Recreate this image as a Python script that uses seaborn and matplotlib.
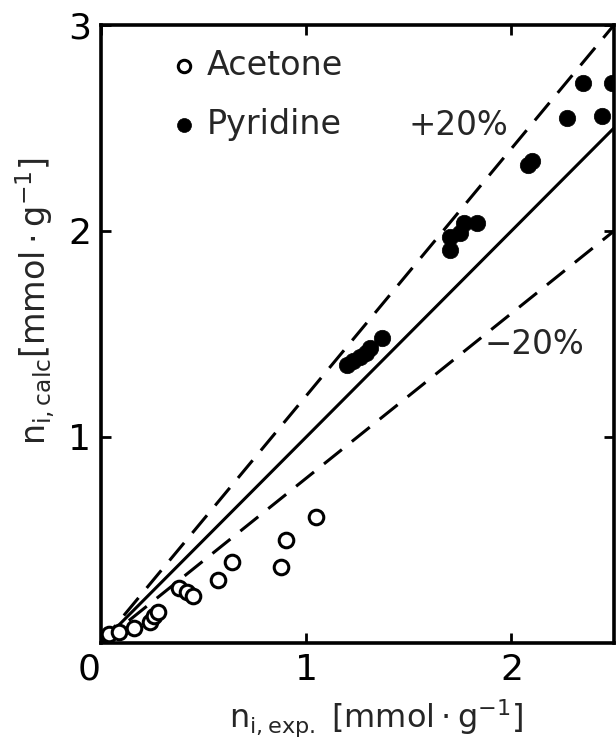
import matplotlib
matplotlib.use("Agg")
import matplotlib.pyplot as plt
import seaborn as sns
import pandas as pd

# ---- data ----
acetone_exp = [0.04, 0.09, 0.16, 0.24, 0.26, 0.28, 0.38, 0.42, 0.45, 0.57, 0.64, 0.875, 0.90, 1.05]
acetone_calc = [0.045, 0.055, 0.075, 0.10, 0.13, 0.15, 0.265, 0.25, 0.23, 0.305, 0.395, 0.37, 0.50, 0.61]

pyridine_exp = [1.20, 1.23, 1.26, 1.29, 1.31, 1.37, 1.70, 1.70, 1.75, 1.77, 1.83,
                2.08, 2.10, 2.27, 2.35, 2.44, 2.49]
pyridine_calc = [1.35, 1.37, 1.39, 1.41, 1.43, 1.48, 1.91, 1.97, 1.99, 2.04, 2.04,
                 2.32, 2.34, 2.55, 2.72, 2.56, 2.72]

line_x = [0.0, 2.5]
line_factors = [1.0, 1.2, 0.8]
line_styles = ["solid", "dashed", "dashed"]

x_ticks = [0, 1, 2]
y_ticks = [1, 2, 3]

sns.set_style("ticks")
plt.rcParams["font.family"] = ["DejaVu Sans"]
plt.rcParams["mathtext.default"] = "regular"

fig = plt.figure(figsize=(6.16, 7.39), dpi=100)
ax = fig.add_axes([101/616, 1 - 643/739, 513/616, 618/739])

# reference lines (1:1 and +/-20 %)
for f, ls in zip(line_factors, line_styles):
    ly = [f * v for v in line_x]
    sns.lineplot(x=line_x, y=ly, ax=ax, color="black", lw=2.2)
    line = ax.lines[-1]
    if ls == "dashed":
        line.set_dashes((7.5, 4.2))

df_a = pd.DataFrame({"x": acetone_exp, "y": acetone_calc})
df_p = pd.DataFrame({"x": pyridine_exp, "y": pyridine_calc})

sns.scatterplot(data=df_a, x="x", y="y", ax=ax, marker="o", s=110,
                facecolor="white", edgecolor="black", linewidth=2.2,
                label="Acetone", zorder=5)
sns.scatterplot(data=df_p, x="x", y="y", ax=ax, marker="o", s=140,
                color="black", edgecolor="black", linewidth=0.5,
                label="Pyridine", zorder=5)

ax.set_xlim(0, 2.5)
ax.set_ylim(0, 3)

ax.set_xticks(x_ticks)
ax.set_yticks(y_ticks)
ax.set_xticklabels([str(t) for t in x_ticks])
ax.set_yticklabels([str(t) for t in y_ticks])
ax.get_xticklabels()[0].set_horizontalalignment("right")

ax.tick_params(direction="in", length=7, width=2, top=True, right=True,
               labelsize=26, pad=7, colors="black")
for sp in ax.spines.values():
    sp.set_linewidth(2.6)
    sp.set_color("black")

ax.set_xlabel(r"$n_{i,exp.}\ [mmol\cdot g^{-1}]$", fontsize=23)
ax.set_ylabel(r"$n_{i,calc}[mmol\cdot g^{-1}]$", fontsize=24)
ax.xaxis.label.set_verticalalignment("center")
ax.xaxis.set_label_coords(0.536, -0.122)
ax.yaxis.label.set_verticalalignment("center")
ax.yaxis.set_label_coords(-0.128, 0.553)

leg = ax.legend(loc="upper left", bbox_to_anchor=(0.129, 0.961), frameon=False,
                fontsize=24, handlelength=1.0, handletextpad=0.2,
                labelspacing=0.78, markerscale=0.85, borderpad=0,
                borderaxespad=0)

ax.text(1.50, 2.51, "+20%", fontsize=23.5, ha="left", va="center")
ax.text(2.11, 1.45, "\u221220%", fontsize=23.5, ha="center", va="center")

fig.savefig("out.png", dpi=100)
